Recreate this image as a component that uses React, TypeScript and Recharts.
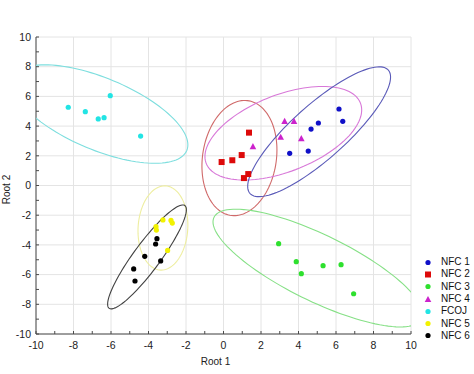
import { ScatterChart, Scatter, XAxis, YAxis, CartesianGrid, Legend } from "recharts";

// group scores (Root 1, Root 2)
const nfc1 = [
  { x: 3.53, y: 2.17 }, { x: 4.52, y: 2.32 }, { x: 4.67, y: 3.8 },
  { x: 5.06, y: 4.21 }, { x: 6.16, y: 5.15 }, { x: 6.36, y: 4.32 },
];
const nfc2 = [
  { x: -0.1, y: 1.58 }, { x: 0.47, y: 1.7 }, { x: 0.97, y: 2.05 },
  { x: 1.36, y: 3.56 }, { x: 1.32, y: 0.77 }, { x: 1.09, y: 0.5 },
];
const nfc3 = [
  { x: 2.94, y: -3.92 }, { x: 3.88, y: -5.13 }, { x: 4.15, y: -5.94 },
  { x: 5.31, y: -5.4 }, { x: 6.27, y: -5.33 }, { x: 6.94, y: -7.29 },
];
const nfc4 = [
  { x: 1.57, y: 2.62 }, { x: 3.05, y: 3.25 }, { x: 3.26, y: 4.32 },
  { x: 3.76, y: 4.32 }, { x: 4.15, y: 3.15 },
];
const fcoj = [
  { x: -8.28, y: 5.27 }, { x: -7.37, y: 4.97 }, { x: -6.68, y: 4.48 },
  { x: -6.37, y: 4.57 }, { x: -6.04, y: 6.05 }, { x: -4.42, y: 3.33 },
];
const nfc5 = [
  { x: -3.6, y: -2.77 }, { x: -3.58, y: -3.0 }, { x: -3.23, y: -2.32 },
  { x: -2.8, y: -2.35 }, { x: -2.73, y: -2.53 }, { x: -2.98, y: -4.37 },
];
const nfc6 = [
  { x: -3.55, y: -3.58 }, { x: -3.62, y: -3.94 }, { x: -4.2, y: -4.77 },
  { x: -3.35, y: -5.08 }, { x: -4.79, y: -5.62 }, { x: -4.72, y: -6.43 },
];

const series = [
  { name: "NFC 1", data: nfc1, color: "#1010c8", kind: "circle" },
  { name: "NFC 2", data: nfc2, color: "#dd0a0a", kind: "square" },
  { name: "NFC 3", data: nfc3, color: "#2ee02e", kind: "circle" },
  { name: "NFC 4", data: nfc4, color: "#cc22cc", kind: "triangle" },
  { name: "FCOJ", data: fcoj, color: "#22e4e4", kind: "circle" },
  { name: "NFC 5", data: nfc5, color: "#f2f200", kind: "circle" },
  { name: "NFC 6", data: nfc6, color: "#000000", kind: "circle" },
];

// confidence ellipses: centre and two conjugate half-diameters, in data units
const ellipses = [
  { name: "FCOJ", cx: -6.59, cy: 4.81, ux: 4.69, uy: -2.07, vx: 0, vy: 2.59, color: "#7ddede" },
  { name: "NFC 2", cx: 0.85, cy: 1.85, ux: 2.0, uy: 0.54, vx: 0, vy: 3.84, color: "#d06a6a" },
  { name: "NFC 4", cx: 3.19, cy: 3.52, ux: 4.18, uy: 1.57, vx: 0, vy: 2.73, color: "#d878d8" },
  { name: "NFC 1", cx: 5.1, cy: 3.62, ux: 3.81, uy: 3.68, vx: 0, vy: 2.36, color: "#5a5ab8" },
  { name: "NFC 3", cx: 5.04, cy: -5.56, ux: 5.6, uy: -3.11, vx: 0, vy: 2.46, color: "#86e086" },
  { name: "NFC 5", cx: -3.23, cy: -2.86, ux: 1.33, uy: 0.2, vx: 0, vy: 2.83, color: "#eeeea0" },
  { name: "NFC 6", cx: -4.08, cy: -4.81, ux: 2.1, uy: 3.18, vx: 0, vy: 1.46, color: "#404040" },
];

const minorTicks = [-10, -9, -8, -7, -6, -5, -4, -3, -2, -1, 0, 1, 2, 3, 4, 5, 6, 7, 8, 9, 10];
const majorTicks = [-10, -8, -6, -4, -2, 0, 2, 4, 6, 8, 10];

const FONT = "'Liberation Sans', Arial, sans-serif";
const AXIS = "#4a4a4a";

function outline(e: any) {
  const pts: { x: number; y: number }[] = [];
  const n = 120;
  for (let i = 0; i <= n; i++) {
    const t = (i / n) * Math.PI * 2;
    pts.push({
      x: e.cx + e.ux * Math.cos(t) + e.vx * Math.sin(t),
      y: e.cy + e.uy * Math.cos(t) + e.vy * Math.sin(t),
    });
  }
  return pts;
}

function Marker({ kind, cx, cy, color }: any) {
  if (kind === "square") return <rect x={cx - 3} y={cy - 3} width={6} height={6} fill={color} />;
  if (kind === "triangle")
    return <polygon points={`${cx},${cy - 3.6} ${cx + 3.3},${cy + 2.6} ${cx - 3.3},${cy + 2.6}`} fill={color} />;
  return <circle cx={cx} cy={cy} r={2.6} fill={color} />;
}

const fmt = (v: number) => (v % 2 === 0 ? String(v) : "");

function renderLegend(props: any) {
  const names = (props.payload || []).map((p: any) => p.value);
  return (
    <div style={{ fontFamily: FONT, fontSize: 10, color: "#111" }}>
      {series
        .filter((s) => names.includes(s.name))
        .map((s) => (
          <div key={s.name} style={{ height: 12.3, display: "flex", alignItems: "center" }}>
            <svg width={12} height={9}>
              <Marker kind={s.kind} cx={6} cy={4.5} color={s.color} />
            </svg>
            <span style={{ marginLeft: 7, lineHeight: "12px" }}>{s.name}</span>
          </div>
        ))}
    </div>
  );
}

export default function App() {
  return (
    <div style={{ position: "absolute", left: 0, top: 0, width: 474, height: 374, background: "#fff" }}>
      <ScatterChart width={474} height={374} margin={{ top: 37, right: 63, bottom: 0, left: 0 }}>
        <XAxis xAxisId="g" type="number" dataKey="x" domain={[-10, 10]} ticks={majorTicks} allowDataOverflow hide />
        <YAxis yAxisId="g" type="number" dataKey="y" domain={[-10, 10]} ticks={majorTicks} allowDataOverflow hide />
        <CartesianGrid xAxisId="g" yAxisId="g" stroke="#e4e4e4" strokeWidth={1} />
        <XAxis
          type="number"
          dataKey="x"
          domain={[-10, 10]}
          ticks={minorTicks}
          interval={0}
          allowDataOverflow
          height={40}
          tickSize={-3}
          tickMargin={10.5}
          tickFormatter={fmt}
          axisLine={{ stroke: AXIS }}
          tickLine={{ stroke: AXIS }}
          tick={{ fontSize: 10.5, fill: "#222", fontFamily: FONT }}
          label={{
            content: (p: any) => (
              <text
                x={p.viewBox.x + p.viewBox.width / 2 - 8}
                y={p.viewBox.y + 31}
                textAnchor="middle"
                fontSize={10}
                fontFamily={FONT}
                fill="#222"
              >
                Root 1
              </text>
            ),
          }}
        />
        <YAxis
          type="number"
          dataKey="y"
          domain={[-10, 10]}
          ticks={minorTicks}
          interval={0}
          allowDataOverflow
          width={36}
          tickSize={-3}
          tickMargin={8}
          tickFormatter={fmt}
          axisLine={{ stroke: AXIS }}
          tickLine={{ stroke: AXIS }}
          tick={{ fontSize: 10.5, fill: "#222", fontFamily: FONT }}
          label={{
            content: (p: any) => {
              const x = p.viewBox.x + 10;
              const y = p.viewBox.y + p.viewBox.height / 2 + 4;
              return (
                <text
                  x={x}
                  y={y}
                  transform={`rotate(-90 ${x} ${y})`}
                  textAnchor="middle"
                  fontSize={10}
                  fontFamily={FONT}
                  fill="#222"
                >
                  Root 2
                </text>
              );
            },
          }}
        />
        <XAxis
          xAxisId="t"
          orientation="top"
          type="number"
          domain={[-10, 10]}
          ticks={minorTicks}
          interval={0}
          allowDataOverflow
          height={0}
          tickSize={-3}
          tick={false}
          axisLine={{ stroke: AXIS }}
          tickLine={{ stroke: AXIS }}
        />
        <YAxis
          yAxisId="r"
          orientation="right"
          type="number"
          domain={[-10, 10]}
          ticks={minorTicks}
          interval={0}
          allowDataOverflow
          width={0}
          tickSize={-3}
          tick={false}
          axisLine={{ stroke: AXIS }}
          tickLine={{ stroke: AXIS }}
        />
        {ellipses.map((e) => (
          <Scatter
            key={`ell-${e.name}`}
            name={`ell-${e.name}`}
            data={outline(e)}
            fill={e.color}
            line={{ stroke: e.color, strokeWidth: 1.1 }}
            shape={() => <g />}
            legendType="none"
            isAnimationActive={false}
          />
        ))}
        {series.map((s) => (
          <Scatter
            key={s.name}
            name={s.name}
            data={s.data}
            fill={s.color}
            shape={(p: any) => <Marker kind={s.kind} cx={p.cx} cy={p.cy} color={s.color} />}
            isAnimationActive={false}
          />
        ))}
        <Legend
          layout="vertical"
          align="center"
          verticalAlign="middle"
          wrapperStyle={{ left: 422, top: 256, width: 52 }}
          content={renderLegend}
        />
      </ScatterChart>
    </div>
  );
}
